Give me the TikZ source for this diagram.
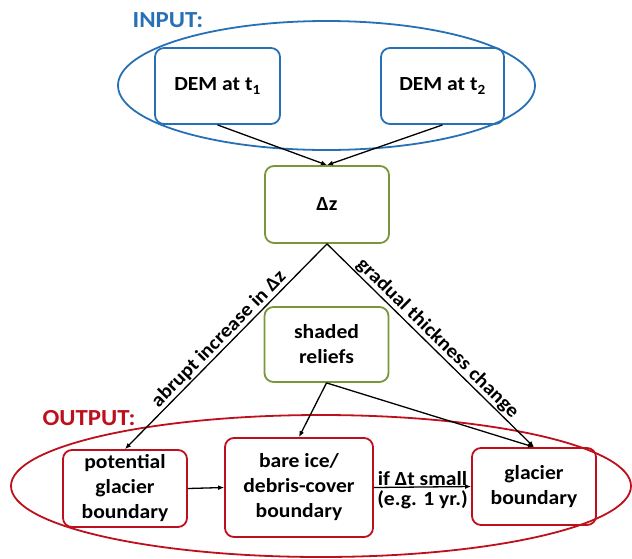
\documentclass[tikz,border=0pt]{standalone}
\usepackage{fontspec}
\setmainfont{Carlito}[FakeStretch=1.08]
\usetikzlibrary{arrows.meta,shapes.geometric}
\definecolor{input edge}{RGB}{40,112,182}
\definecolor{step edge}{RGB}{122,150,58}
\definecolor{output edge}{RGB}{190,16,28}
\tikzset{box/.style={draw, rounded corners=9pt, line width=1.8pt, align=center,
      minimum width=124pt, minimum height=77pt, font=\bfseries\fontsize{20}{25}\selectfont},
    inbox/.style={box, draw=input edge},
    midbox/.style={box, draw=step edge},
    outbox/.style={box, draw=output edge},
    ring/.style={ellipse, line width=1.8pt, inner sep=0pt},
    flow/.style={-{Latex[length=6pt,width=5pt]}, line width=1.3pt},
    lbl/.style={font=\bfseries\fontsize{20}{24}\selectfont, inner sep=1pt},
    head/.style={font=\bfseries\fontsize{23}{26}\selectfont, inner sep=0pt}}

\begin{document}
\begin{tikzpicture}[x=1pt, y=-1pt]
     \useasboundingbox (0,0) rectangle (632,558);
     % input and output groups
     \node[ring, draw=input edge, minimum width=417pt, minimum height=129pt] (inring) at (326.5,85.5) {};
     \node[ring, draw=output edge, minimum width=620pt, minimum height=142pt] (outring) at (321,486) {};
     \node[head, text=input edge] (inlabel) at (168,20) {INPUT:};
     \node[head, text=output edge] (outlabel) at (89,418) {OUTPUT:};
     % boxes
     \node[inbox, minimum width=125pt, minimum height=76pt] (dem1) at (217.5,86) {DEM at t\textsubscript{1}};
     \node[inbox, minimum width=123pt, minimum height=76pt] (dem2) at (442.5,86) {DEM at t\textsubscript{2}};
     \node[midbox] (dz) at (327,204.5) {Δz};
     \node[midbox, minimum height=75pt] (relief) at (326.5,344.5) {shaded\\reliefs};
     \node[outbox] (pot) at (125,488.5) {potential\\glacier\\boundary};
     \node[outbox, minimum width=148pt, minimum height=99pt] (bare) at (299,487.5) {bare ice/\\debris-cover\\boundary};
     \node[outbox] (gla) at (534,486.5) {glacier\\boundary};
     % connectors
     \draw[flow] (dem1.south) -- (dz.north);
     \draw[flow] (dem2.south) -- (dz.north);
     \draw[flow] (dz.south) -- node[lbl, sloped, above, font=\bfseries\fontsize{19.5}{24}\selectfont] {abrupt increase in Δz} (pot.north);
     \draw[flow] (dz.south) -- node[lbl, sloped, above, font=\bfseries\fontsize{19.5}{24}\selectfont] {gradual thickness change} (gla.north);
     \draw[flow] (relief.south) -- (bare.north);
     \draw[flow] (relief.south) -- (gla.north);
     \draw[flow] (pot.east) -- (bare.west);
     \draw[flow] (bare.east) -- node[lbl, above, inner sep=0.5pt] {if Δt small} node[lbl, below, inner sep=3pt] {(e.g. 1 yr.)} (gla.west);
\end{tikzpicture}
\end{document}
